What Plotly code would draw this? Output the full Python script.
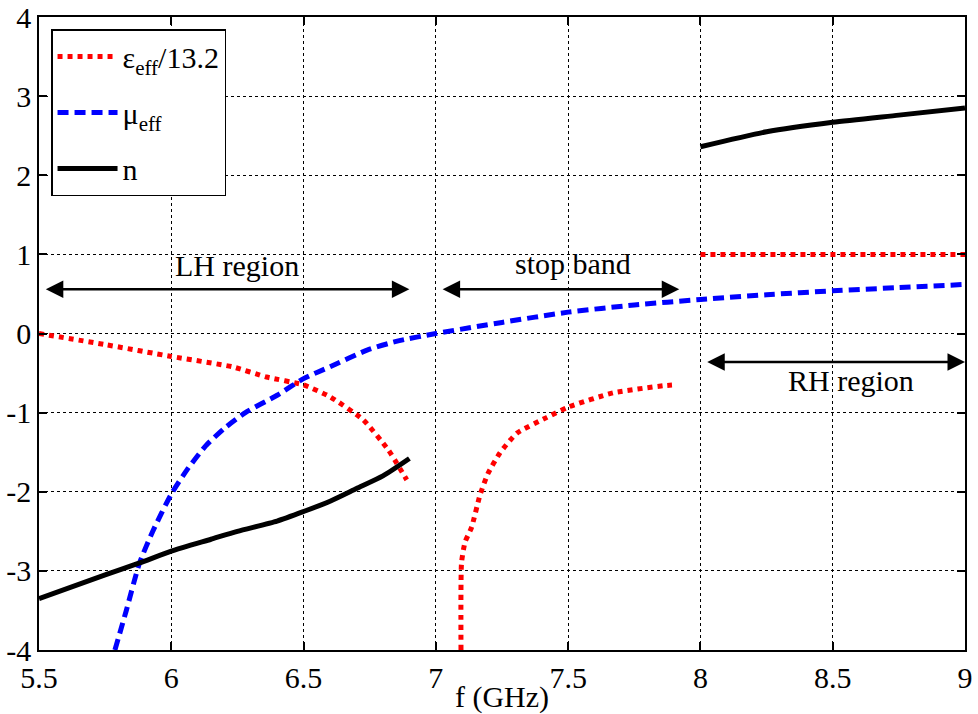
import plotly.graph_objects as go

# ---- data ----
eps_lh_f = [5.5, 5.75, 6.0, 6.23, 6.36, 6.5, 6.6, 6.725, 6.82, 6.89]
eps_lh_v = [0.0, -0.14, -0.29, -0.42, -0.55, -0.65, -0.8, -1.09, -1.47, -1.85]
eps_sb_f = [7.095, 7.097, 7.11, 7.135, 7.167, 7.197, 7.242, 7.306, 7.42, 7.5, 7.67, 7.86, 7.9]
eps_sb_v = [-4.0, -2.9, -2.64, -2.45, -2.04, -1.77, -1.51, -1.26, -1.06, -0.93, -0.75, -0.66, -0.65]
eps_rh_f = [8.0, 9.0]
eps_rh_v = [1.0, 1.0]

mu_f = [5.787, 5.83, 5.88, 5.93, 6.0, 6.06, 6.13, 6.2, 6.28, 6.4, 6.5, 6.6, 6.74, 6.85, 7.0,
        7.25, 7.5, 7.75, 8.0, 8.25, 8.5, 8.75, 9.0]
mu_v = [-4.0, -3.5, -2.9, -2.5, -2.03, -1.72, -1.42, -1.2, -1.0, -0.78, -0.57, -0.42, -0.21, -0.1, 0.0,
        0.14, 0.27, 0.36, 0.43, 0.49, 0.54, 0.58, 0.62]

n_lh_f = [5.5, 5.75, 5.88, 6.0, 6.15, 6.25, 6.4, 6.5, 6.6, 6.7, 6.8, 6.9]
n_lh_v = [-3.35, -3.05, -2.9, -2.75, -2.6, -2.5, -2.37, -2.25, -2.12, -1.96, -1.8, -1.58]
n_rh_f = [8.0, 8.25, 8.5, 8.75, 9.0]
n_rh_v = [2.36, 2.55, 2.67, 2.76, 2.85]

x_ticks = [5.5, 6, 6.5, 7, 7.5, 8, 8.5, 9]
x_tick_labels = ["5.5", "6", "6.5", "7", "7.5", "8", "8.5", "9"]
y_ticks = [-4, -3, -2, -1, 0, 1, 2, 3, 4]
y_tick_labels = ["-4", "-3", "-2", "-1", "0", "1", "2", "3", "4"]

regions = [
    # label, f_start, f_end, arrow_y, text_f, text_y
    ("LH region", 5.52, 6.9, 0.56, 6.25, 0.86),
    ("stop band", 7.02, 7.92, 0.56, 7.52, 0.88),
    ("RH region", 8.02, 9.0, -0.36, 8.57, -0.6),
]

FONT = "Liberation Serif, DejaVu Serif, serif"
FS = 30

fig = go.Figure()

eps_f = eps_lh_f + [None] + eps_sb_f + [None] + eps_rh_f
eps_v = eps_lh_v + [None] + eps_sb_v + [None] + eps_rh_v
fig.add_trace(go.Scatter(x=eps_f, y=eps_v, mode="lines", connectgaps=False,
                         name="ε<sub>eff</sub>/13.2", legendgroup="a",
                         line=dict(color="#ff0000", width=5, dash="5px,5px",
                                   shape="spline", smoothing=0.5)))
fig.add_trace(go.Scatter(x=mu_f, y=mu_v, mode="lines",
                         name="μ<sub>eff</sub>", legendgroup="b",
                         line=dict(color="#0000ff", width=5, dash="11px,6px",
                                   shape="spline", smoothing=0.6)))
n_f = n_lh_f + [None] + n_rh_f
n_v = n_lh_v + [None] + n_rh_v
fig.add_trace(go.Scatter(x=n_f, y=n_v, mode="lines", connectgaps=False,
                         name="n", legendgroup="c",
                         line=dict(color="#000000", width=5, shape="spline", smoothing=0.6)))

for label, f0, f1, ay, tf, ty in regions:
    fig.add_annotation(x=f1, y=ay, ax=f0, ay=ay, xref="x", yref="y", axref="x", ayref="y",
                       text="", showarrow=True, arrowhead=2, arrowside="end+start",
                       arrowsize=1.4, arrowwidth=2.5, arrowcolor="black",
                       standoff=0, startstandoff=0)
    fig.add_annotation(x=tf, y=ty, xref="x", yref="y", text=label, showarrow=False,
                       font=dict(family=FONT, size=FS, color="black"))

axis_common = dict(
    showline=True, linecolor="black", linewidth=1.5, mirror="allticks",
    ticks="inside", ticklen=8, tickcolor="black", tickwidth=1.5,
    showgrid=True, gridcolor="black", gridwidth=1, griddash="3px,3px",
    zeroline=False, automargin=False,
    tickfont=dict(family=FONT, size=FS, color="black"),
)

fig.update_xaxes(range=[5.5, 9], tickvals=x_ticks, ticktext=x_tick_labels,
                 title=dict(text="f (GHz)", font=dict(family=FONT, size=FS, color="black"), standoff=0),
                 **axis_common)
fig.update_yaxes(range=[-4, 4], tickvals=y_ticks, ticktext=y_tick_labels, **axis_common)

fig.update_layout(
    width=978, height=714,
    margin=dict(l=39, r=13, t=17, b=64, autoexpand=False),
    paper_bgcolor="white", plot_bgcolor="white",
    font=dict(family=FONT),
    showlegend=True,
    legend=dict(x=0.013, y=0.981, xanchor="left", yanchor="top",
                bgcolor="white", bordercolor="black", borderwidth=1.5,
                font=dict(family=FONT, size=FS, color="black"),
                tracegroupgap=14, itemwidth=60),
)

fig.write_html("out.html")
